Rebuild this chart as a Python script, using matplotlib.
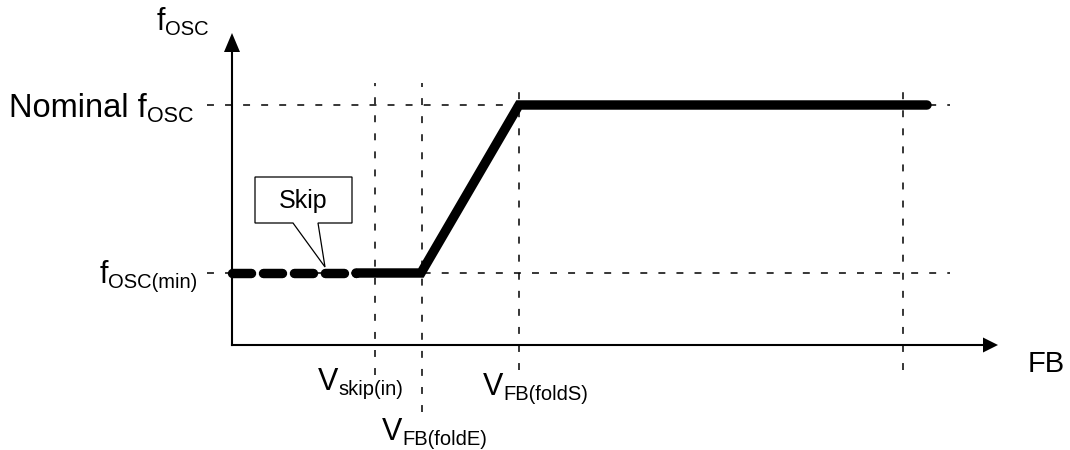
import matplotlib
matplotlib.use("Agg")
import matplotlib.pyplot as plt
from matplotlib.patches import Polygon

plt.rcParams['font.family'] = 'Liberation Sans'
plt.rcParams['lines.scale_dashes'] = False

# diagram coordinates (x: FB, y: f_osc), origin at bottom-left of canvas
x_origin, y_origin = 232, 105
x_axis_end, y_axis_end = 998, 417
f_min, f_nom = 177, 345
v_skip_in, v_fold_e, v_fold_s, v_end = 375, 422, 519, 903

# thick frequency curve: skip region (dashed) then normal operation
skip_x = [232, 356]
skip_y = [f_min, f_min]
curve_x = [356, 421, 519, 927]
curve_y = [f_min, f_min, f_nom, f_nom]

# guide lines
h_guides = [f_nom, f_min]
h_guide_span = [207, 950]
v_guides = [v_skip_in, v_fold_e, v_fold_s, v_end]
v_guide_bottom = [75, 38, 80, 80]
v_guide_top = 367

fig = plt.figure(figsize=(10.7, 4.5), dpi=100)
ax = fig.add_axes([0, 0, 1, 1])
ax.set_xlim(0, 1070)
ax.set_ylim(0, 450)
ax.axis('off')

# dashed guides
for y in h_guides:
    ax.plot(h_guide_span, [y, y], color='black', lw=1.1, dashes=(5, 8))
for x, yb in zip(v_guides, v_guide_bottom):
    ax.plot([x, x], [yb, v_guide_top], color='black', lw=1.1, dashes=(5, 8))

# axes with arrow heads
ax.plot([x_origin, x_origin], [y_origin, y_axis_end - 15], color='black', lw=1.5)
ax.plot([x_origin, x_axis_end - 15], [y_origin, y_origin], color='black', lw=1.5)
ax.add_patch(Polygon([[x_origin, y_axis_end], [x_origin - 8, y_axis_end - 19],
                      [x_origin + 8, y_axis_end - 19]], closed=True, color='black', lw=0))
ax.add_patch(Polygon([[x_axis_end, y_origin], [x_axis_end - 15, y_origin + 7.5],
                      [x_axis_end - 15, y_origin - 7.5]], closed=True, color='black', lw=0))

# frequency curve
ax.plot(skip_x, skip_y, color='black', lw=6.8, dashes=(13.7, 8.6),
        dash_capstyle='round')
ax.plot(curve_x, curve_y, color='black', lw=6.8, solid_capstyle='round',
        solid_joinstyle='miter')

# "Skip" callout
callout = [[255, 273], [352, 273], [352, 227], [318, 227], [325, 183],
           [293, 227], [255, 227]]
ax.add_patch(Polygon(callout, closed=True, facecolor='white', edgecolor='black',
                     lw=0.9, zorder=5))
ax.text(303, 249, 'Skip', fontsize=18, ha='center', va='center', zorder=6)

fig.canvas.draw()
renderer = fig.canvas.get_renderer()


def sub_label(x, y, main, sub, ha='left', size=22, sub_size=14.5, drop=5):
    t = ax.text(x, y, main, fontsize=size, ha='left', va='baseline')
    w_main = t.get_window_extent(renderer).width
    s = ax.text(x + w_main, y - drop, sub, fontsize=sub_size, ha='left',
                va='baseline')
    if ha == 'right':
        w_sub = s.get_window_extent(renderer).width
        shift = w_main + w_sub
        t.set_x(x - shift)
        s.set_x(x - shift + w_main)


sub_label(157, 420, 'f', 'OSC')
sub_label(193, 333, 'Nominal f', 'OSC', ha='right', size=23.5, sub_size=15.5)
sub_label(197, 167, 'f', 'OSC(min)', ha='right')
sub_label(318, 60, 'V', 'skip(in)')
sub_label(483, 55, 'V', 'FB(foldS)')
sub_label(382, 10, 'V', 'FB(foldE)')
ax.text(1028, 78, 'FB', fontsize=21, ha='left', va='baseline')

fig.savefig('out.png', dpi=100)
